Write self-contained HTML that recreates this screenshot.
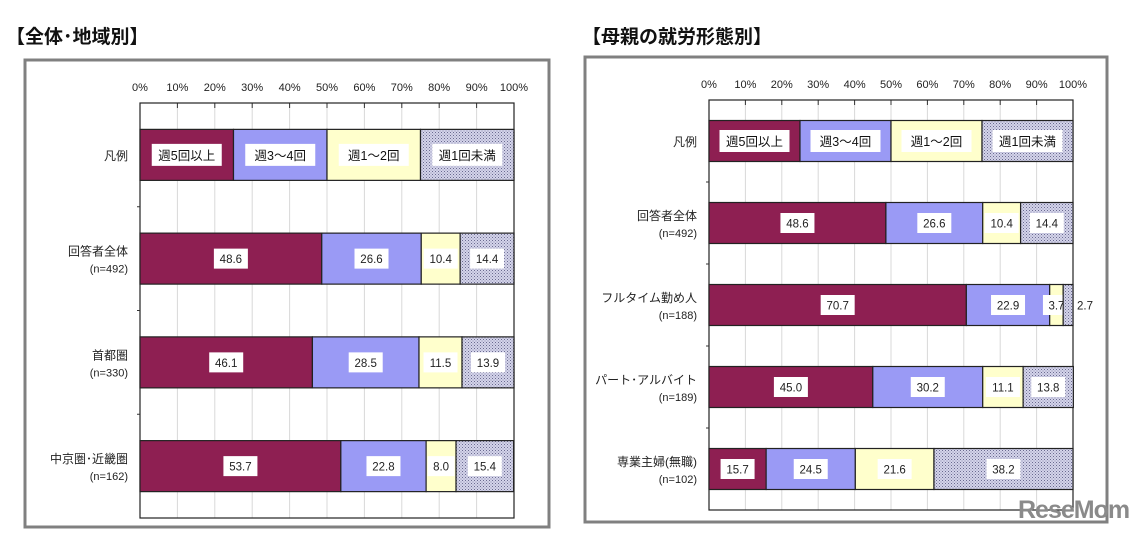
<!DOCTYPE html>
<html><head><meta charset="utf-8"><style>
html,body{margin:0;padding:0;background:#fff;}
body{width:1129px;height:535px;overflow:hidden;position:relative;font-family:"Liberation Sans","Noto Sans CJK JP",sans-serif;}
.title{position:absolute;top:22px;font-size:19px;font-weight:bold;color:#111;font-family:"Liberation Sans","Noto Sans CJK JP",sans-serif;}
svg text{font-family:"Liberation Sans","Noto Sans CJK JP",sans-serif;}
</style></head><body>
<div class="title" style="left:6px">【全体･地域別】</div>
<div class="title" style="left:582px">【母親の就労形態別】</div>
<svg id="s" width="1129" height="535" style="position:absolute;left:0;top:0">
<defs>
<pattern id="dots" width="3" height="3" patternUnits="userSpaceOnUse">
<rect width="3" height="3" fill="#d4d4ea"/><rect width="1" height="1" fill="#6a6a90"/><rect x="1.5" y="1.5" width="1" height="1" fill="#8888aa"/>
</pattern>
</defs>
</svg>
<div style="position:absolute;left:1018px;top:496px;font-size:25px;font-weight:bold;color:#8a8a8a;letter-spacing:-1px">ReseMom<span style="font-size:10px">.</span></div>
<script>
const series = ['週5回以上','週3～4回','週1～2回','週1回未満'];
const ticks = ['0%','10%','20%','30%','40%','50%','60%','70%','80%','90%','100%'];
const leftCats = ['回答者全体','首都圏','中京圏･近畿圏'];
const leftN = ['492','330','162'];
const leftS1 = [48.6,46.1,53.7];
const leftS2 = [26.6,28.5,22.8];
const leftS3 = [10.4,11.5,8.0];
const leftS4 = [14.4,13.9,15.4];
const rightCats = ['回答者全体','フルタイム勤め人','パート･アルバイト','専業主婦(無職)'];
const rightN = ['492','188','189','102'];
const rightS1 = [48.6,70.7,45.0,15.7];
const rightS2 = [26.6,22.9,30.2,24.5];
const rightS3 = [10.4,3.7,11.1,21.6];
const rightS4 = [14.4,2.7,13.8,38.2];

const fills = ['#8e1f52','#9a9af5','#ffffcc','url(#dots)'];
const svg = document.getElementById('s');
const NS = 'http://www.w3.org/2000/svg';
function mk(tag, attrs, parent){const e=document.createElementNS(NS,tag);for(const k in attrs)e.setAttribute(k,attrs[k]);(parent||svg).appendChild(e);return e;}

function chart(cfg){
  const g = mk('g',{});
  
  
  const fr = mk('rect',{x:cfg.fx,y:cfg.fy,width:cfg.fw,height:cfg.fh,fill:'#fff',stroke:'#808080','stroke-width':3},g);
  
  
  const x = v => cfg.x0 + (cfg.x1-cfg.x0)*v/100;
  const nb = cfg.cats.length+1;
  const band = (cfg.y1-cfg.y0)/nb;
  const yc = i => cfg.y0 + band*(i+0.5);
  ticks.forEach((t,i)=>{
    const v=i*10;
    if(i>0&&i<10){const l=mk('line',{x1:x(v),x2:x(v),y1:cfg.y0,y2:cfg.y1,stroke:'#d8d8d8','stroke-width':1},g);
      
      
      mk('line',{x1:x(v),x2:x(v),y1:cfg.y0,y2:cfg.y0+5,stroke:'#333'},g);}
    const tx=mk('text',{x:x(v),y:cfg.y0-12,'font-size':11,'text-anchor':'middle',fill:'#222'},g);
    tx.textContent=t;
    
    
  });
  const pa=mk('rect',{x:cfg.x0,y:cfg.y0,width:cfg.x1-cfg.x0,height:cfg.y1-cfg.y0,fill:'none',stroke:'#222','stroke-width':1.2},g);
  
  
  const ly=yc(0), lh=cfg.bh;
  series.forEach((s,i)=>{
    const r=mk('rect',{x:x(i*25),y:ly-lh/2,width:x(25)-x(0),height:lh,fill:fills[i],stroke:'#222','stroke-width':1.2},g);
    
    
    const w=s.length*12+10;
    mk('rect',{x:x(i*25+12.5)-w/2,y:ly-11,width:w,height:22,fill:'#fff'},g);
    const t=mk('text',{x:x(i*25+12.5),y:ly+5,'font-size':12.5,'text-anchor':'middle',fill:'#111'},g);
    t.textContent=s;
    
    
  });
  const lt=mk('text',{x:cfg.x0-12,y:ly+5,'font-size':12,'text-anchor':'end',fill:'#222'},g);
  lt.textContent='凡例';
  
  
  mk('line',{x1:cfg.x0-3,x2:cfg.x0,y1:yc(0)+band/2,y2:yc(0)+band/2,stroke:'#333'},g);
  cfg.cats.forEach((c,i)=>{
    const cy=yc(i+1);
    if(i<cfg.cats.length-1) mk('line',{x1:cfg.x0-3,x2:cfg.x0,y1:cy+band/2,y2:cy+band/2,stroke:'#333'},g);
    const t=mk('text',{x:cfg.x0-12,y:cy-3,'font-size':12,'text-anchor':'end',fill:'#222'},g);
    t.textContent=c;
    
    
    const n=mk('text',{x:cfg.x0-12,y:cy+14,'font-size':11,'text-anchor':'end',fill:'#222'},g);
    n.textContent='(n='+cfg.n[i]+')';
    
    
    let acc=0;
    cfg.vals.forEach((arr,k)=>{
      const v=arr[i];
      const r=mk('rect',{x:x(acc),y:cy-cfg.bh/2,width:x(acc+v)-x(acc),height:cfg.bh,fill:fills[k],stroke:'#222','stroke-width':1.2},g);
      
      
      const lbl=v.toFixed(1);
      let cx=x(acc+v/2);
      if(v<3){cx=cfg.x1+12;}
      else {const w=lbl.length*7+6;mk('rect',{x:cx-w/2,y:cy-10,width:w,height:20,fill:'#fff'},g);}
      const t2=mk('text',{x:cx,y:cy+4.5,'font-size':11.5,'text-anchor':'middle',fill:'#222'},g);
      t2.textContent=lbl;
      
      
      acc+=v;
    });
  });
}
chart({name:'left-chart',fx:25,fy:60,fw:524,fh:467,x0:140,x1:514,y0:103,y1:518,bh:51,cats:leftCats,n:leftN,vals:[leftS1,leftS2,leftS3,leftS4]});
chart({name:'right-chart',fx:585,fy:57,fw:522,fh:465,x0:709,x1:1073,y0:100,y1:510,bh:41,cats:rightCats,n:rightN,vals:[rightS1,rightS2,rightS3,rightS4]});
</script>
</body></html>
